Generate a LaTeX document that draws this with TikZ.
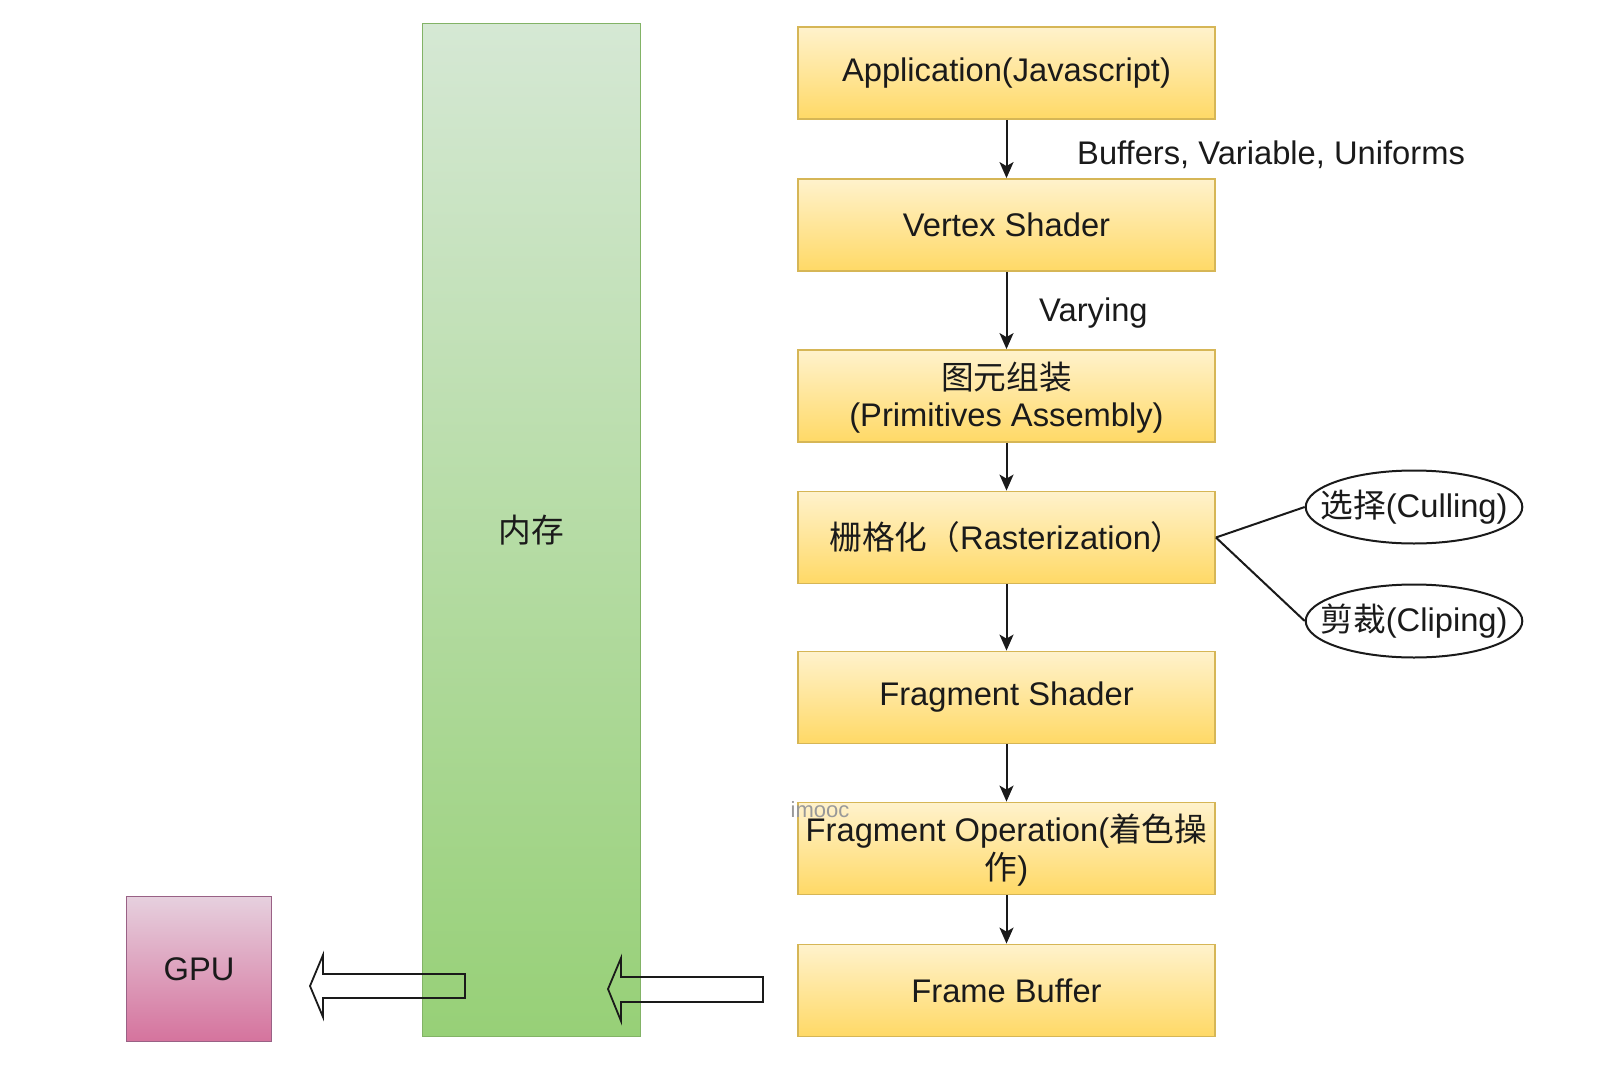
\documentclass[tikz,border=0pt]{standalone}
\usepackage{fontspec}
\setmainfont{Liberation Sans}
\newfontfamily\cjk{Noto Sans CJK SC}
\usetikzlibrary{arrows.meta,shapes.geometric}
\definecolor{ytop}{HTML}{FFF2CC}
\definecolor{ybot}{HTML}{FFD966}
\definecolor{ystroke}{HTML}{D6B656}
\definecolor{gtop}{HTML}{D5E8D4}
\definecolor{gbot}{HTML}{97D077}
\definecolor{gstroke}{HTML}{82B366}
\definecolor{ptop}{HTML}{E6D0DE}
\definecolor{pbot}{HTML}{D5739D}
\definecolor{pstroke}{HTML}{996185}
\definecolor{ink}{HTML}{1A1A1A}
\newcommand{\twolines}[2]{\raisebox{0pt}[\dimexpr\height+8pt\relax][\depth]{\begin{tabular}{@{}c@{}}#1\\#2\end{tabular}}}
\begin{document}
\begin{tikzpicture}[x=1pt,y=-1pt,
  stagebox/.style={draw=ystroke, line width=1.8pt, top color=ytop, bottom color=ybot,
    minimum width=417pt, minimum height=92pt, inner sep=0pt,
    font=\fontsize{32.7}{37}\selectfont, text=ink},
  flow/.style={-{Stealth[length=16pt,width=14pt,inset=4pt]}, line width=2pt, draw=ink},
  oval/.style={ellipse, draw=ink, line width=2pt, minimum width=216pt, minimum height=73pt,
    inner xsep=-17pt, inner ysep=0pt, font=\fontsize{32.7}{38}\selectfont, text=ink},
  lbl/.style={font=\fontsize{32.7}{38}\selectfont, text=ink, inner sep=0pt},
  blockarrow/.style={draw=ink, line width=1.8pt, line join=miter}
]
\useasboundingbox[fill=white] (0,0) rectangle (1621,1078);

% memory column
\node[draw=gstroke, line width=1.8pt, top color=gtop, bottom color=gbot,
  minimum width=218pt, minimum height=1013pt, inner sep=0pt,
  font=\fontsize{32.7}{38}\selectfont, text=ink] (mem) at (531.5,530) {\cjk 内存};

% GPU
\node[draw=pstroke, line width=1.8pt, top color=ptop, bottom color=pbot,
  minimum width=145pt, minimum height=145pt, inner sep=0pt,
  font=\fontsize{32.7}{38}\selectfont, text=ink] (gpu) at (199,969) {GPU};

% pipeline
\node[stagebox] (app) at (1006.5,73) {Application(Javascript)};
\node[stagebox] (vs) at (1006.5,225) {Vertex Shader};
\node[stagebox] (pa) at (1006.5,396) {\twolines{\cjk 图元组装}{(Primitives Assembly)}};
\node[stagebox] (ras) at (1006.5,537.5) {{\cjk 栅格化（}Rasterization{\cjk ）}};
\node[stagebox] (fs) at (1006.5,697.5) {Fragment Shader};
\node[stagebox] (fo) at (1006.5,848.5) {\twolines{Fragment Operation({\cjk 着色操}}{{\cjk 作})}};
\node[stagebox] (fb) at (1006.5,990.5) {Frame Buffer};

\node[text=black!40, font=\fontsize{22}{24}\selectfont, inner sep=0pt] (wm) at (820,810) {imooc};

\draw[flow] (app) -- (vs);
\draw[flow] (vs) -- (pa);
\draw[flow] (pa) -- (ras);
\draw[flow] (ras) -- (fs);
\draw[flow] (fs) -- (fo);
\draw[flow] (fo) -- (fb);

\node[lbl, anchor=west] (l1) at (1077,155) {Buffers, Variable, Uniforms};
\node[lbl, anchor=west] (l2) at (1039,313) {Varying};

% culling / clipping
\node[oval] (cull) at (1414,507) {{\cjk 选择}(Culling)};
\node[oval] (clip) at (1414,621) {{\cjk 剪裁}(Cliping)};
\draw[line width=2pt, draw=ink] (ras.east) -- (cull.west);
\draw[line width=2pt, draw=ink] (ras.east) -- (clip.west);

% block arrows
\draw[blockarrow] (465,974) -- (323,974) -- (323,955) -- (310,986) -- (323,1017) -- (323,998) -- (465,998) -- cycle;
\draw[blockarrow] (763,977) -- (621,977) -- (621,958) -- (608,989) -- (621,1021) -- (621,1002) -- (763,1002) -- cycle;
\end{tikzpicture}
\end{document}
